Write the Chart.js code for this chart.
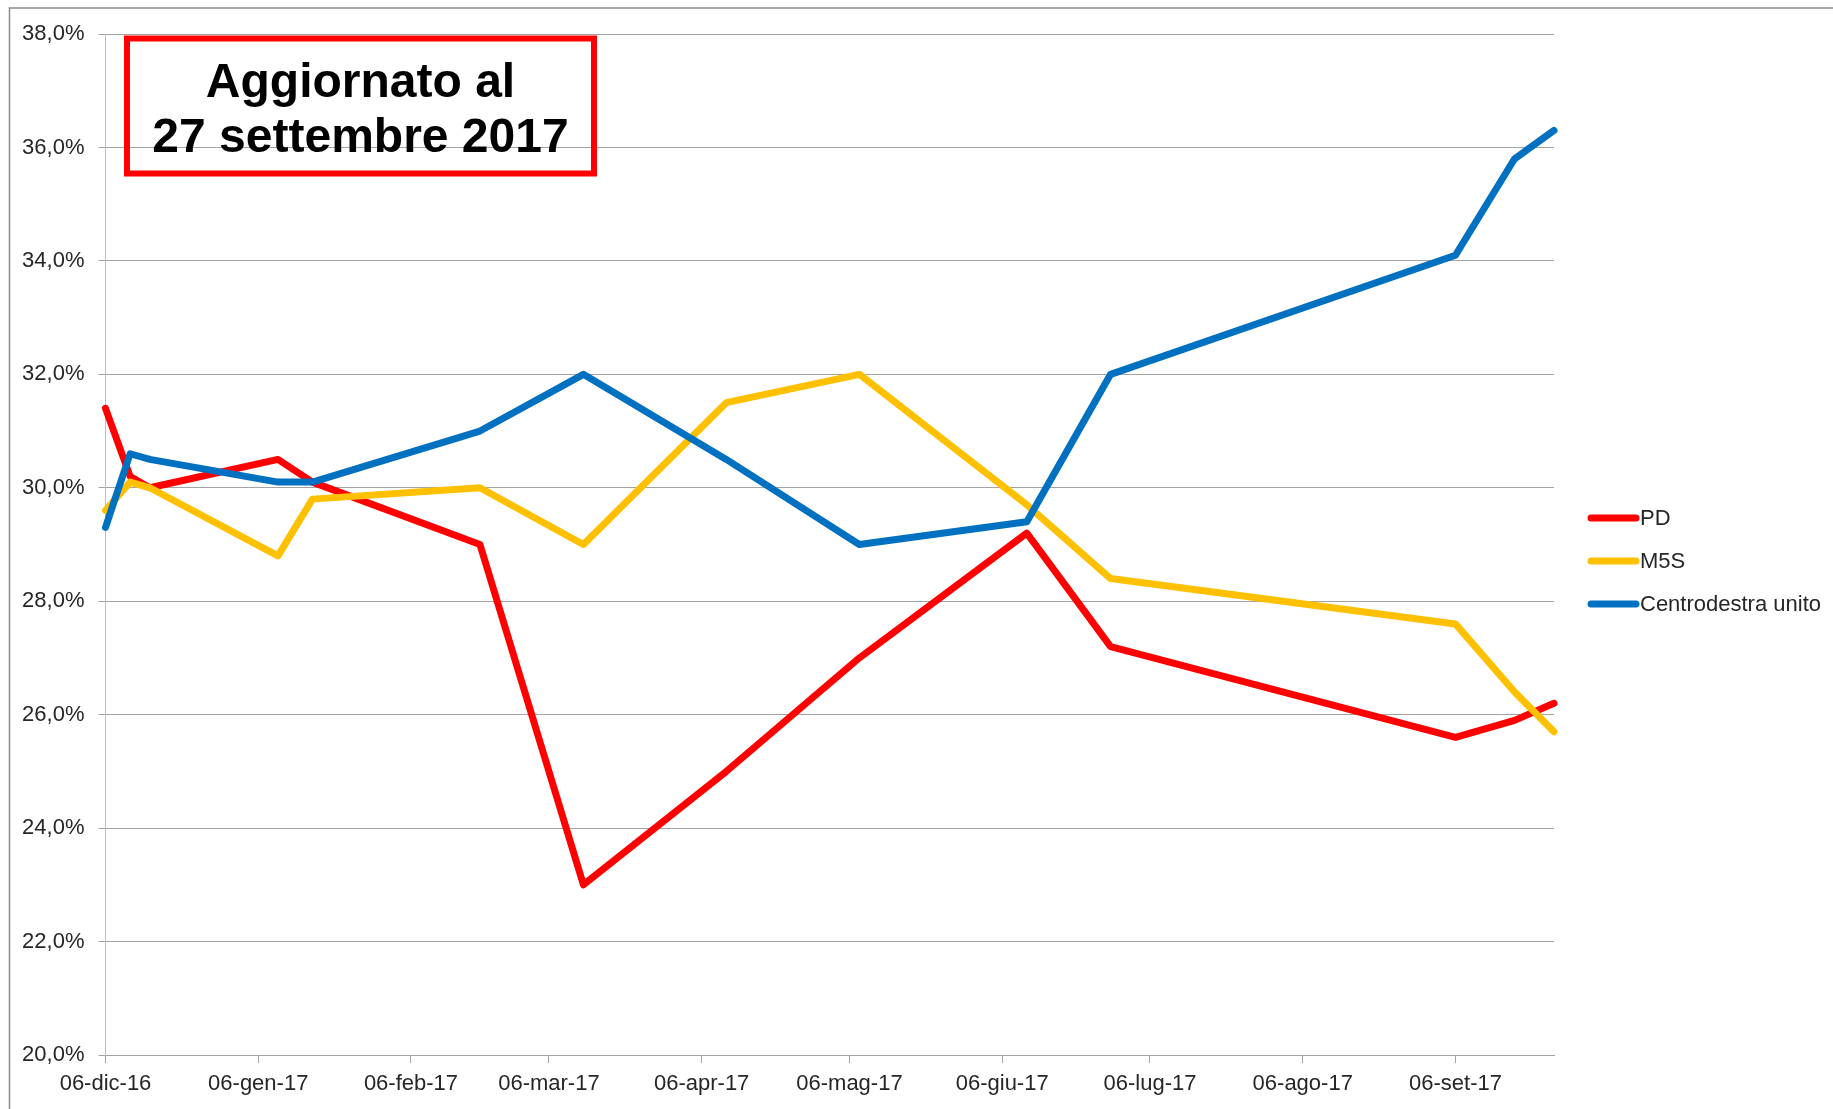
<!DOCTYPE html>
<html>
<head>
<meta charset="utf-8">
<script src="https://cdn.jsdelivr.net/npm/chart.js@4/dist/chart.umd.min.js"></script>
<style>
html,body{margin:0;padding:0;background:#fff;overflow:hidden}
#wrap{position:relative;width:1833px;height:1109px}
canvas{display:block}
</style>
</head>
<body>
<div id="wrap"><canvas id="c" width="1833" height="1109"></canvas></div>
<script>
// ---- data ----
const dates = ['2016-12-06','2016-12-11','2016-12-15','2017-01-10','2017-01-17','2017-02-20','2017-03-13','2017-04-11','2017-05-08','2017-06-11','2017-06-28','2017-09-06','2017-09-18','2017-09-26'];
const pdValues  = [31.4, 30.2, 30.0, 30.5, 30.1, 29.0, 23.0, 25.0, 27.0, 29.2, 27.2, 25.6, 25.9, 26.2];
const m5sValues = [29.6, 30.1, 30.0, 28.8, 29.8, 30.0, 29.0, 31.5, 32.0, 29.7, 28.4, 27.6, 26.4, 25.7];
const cdxValues = [29.3, 30.6, 30.5, 30.1, 30.1, 31.0, 32.0, 30.5, 29.0, 29.4, 32.0, 34.1, 35.8, 36.3];
const seriesNames = ['PD', 'M5S', 'Centrodestra unito'];
const seriesColors = ['#FF0000', '#FFC000', '#0070C0'];
const tickDates = ['2016-12-06','2017-01-06','2017-02-06','2017-03-06','2017-04-06','2017-05-06','2017-06-06','2017-07-06','2017-08-06','2017-09-06'];
const tickLabels = ['06-dic-16','06-gen-17','06-feb-17','06-mar-17','06-apr-17','06-mag-17','06-giu-17','06-lug-17','06-ago-17','06-set-17'];
const yMin = 20, yMax = 38, yStep = 2;
const titleLines = ['Aggiornato al', '27 settembre 2017'];

// ---- helpers ----
const DAY = 86400000;
const t0 = Date.parse(dates[0]);
const dayOf = s => Math.round((Date.parse(s) - t0) / DAY);
const toPoints = vals => vals.map((v, i) => ({ x: dayOf(dates[i]), y: v }));

const TICK_FONT = { family: "'Liberation Sans Narrow', 'Arial Narrow', 'Liberation Sans', sans-serif", size: 22 };
const TEXT_COLOR = '#262626';
const GRID_COLOR = '#a3a3a3';

const series = [pdValues, m5sValues, cdxValues];
const datasets = series.map((vals, i) => ({
  label: seriesNames[i],
  data: toPoints(vals),
  borderColor: seriesColors[i],
  backgroundColor: seriesColors[i],
  borderWidth: 7,
  pointRadius: 0,
  pointHoverRadius: 0,
  tension: 0,
  borderJoinStyle: 'round',
  borderCapStyle: 'round',
  fill: false,
  clip: false,
  order: series.length - 1 - i
}));

const decoPlugin = {
  id: 'deco',
  beforeDraw(chart) {
    const ctx = chart.ctx;
    ctx.save();
    ctx.fillStyle = '#fff';
    ctx.fillRect(0, 0, chart.width, chart.height);
    // outer chart frame (left and top edges visible)
    ctx.strokeStyle = '#8a8a8a';
    ctx.lineWidth = 1.5;
    ctx.beginPath();
    ctx.moveTo(9.5, chart.height);
    ctx.lineTo(9.5, 8);
    ctx.lineTo(chart.width, 8);
    ctx.stroke();
    ctx.restore();
  },
  afterDraw(chart) {
    const ctx = chart.ctx;
    ctx.save();
    // title box
    ctx.strokeStyle = '#FF0000';
    ctx.lineWidth = 6;
    ctx.strokeRect(127, 38.5, 467, 135);
    ctx.fillStyle = '#000';
    ctx.font = "bold 48px 'Liberation Sans', Arial, sans-serif";
    ctx.textAlign = 'center';
    ctx.textBaseline = 'alphabetic';
    ctx.fillText(titleLines[0], 360.5, 97);
    ctx.fillText(titleLines[1], 360.5, 152);
    // legend
    const lx0 = 1591, lx1 = 1636, tx = 1640;
    const ys = [518, 561, 604];
    chart.data.datasets.forEach((ds, i) => {
      ctx.strokeStyle = ds.borderColor;
      ctx.lineWidth = 7;
      ctx.lineCap = 'round';
      ctx.beginPath();
      ctx.moveTo(lx0, ys[i]);
      ctx.lineTo(lx1, ys[i]);
      ctx.stroke();
      ctx.fillStyle = TEXT_COLOR;
      ctx.font = `${TICK_FONT.size}px ${TICK_FONT.family}`;
      ctx.textAlign = 'left';
      ctx.textBaseline = 'middle';
      ctx.fillText(ds.label, tx, ys[i] + 1);
    });
    ctx.restore();
  }
};

new Chart(document.getElementById('c'), {
  type: 'line',
  data: { datasets },
  options: {
    responsive: false,
    animation: false,
    devicePixelRatio: 1,
    layout: { padding: { top: 34, right: 279, bottom: 0, left: 0 } },
    plugins: { legend: { display: false }, tooltip: { enabled: false } },
    scales: {
      x: {
        type: 'linear',
        min: 0,
        max: dayOf(dates[dates.length - 1]),
        afterBuildTicks: scale => { scale.ticks = tickDates.map(d => ({ value: dayOf(d) })); },
        afterFit: scale => { scale.height = 54; },
        ticks: {
          autoSkip: false,
          maxRotation: 0,
          minRotation: 0,
          padding: 8,
          color: TEXT_COLOR,
          font: TICK_FONT,
          callback: (v, i) => tickLabels[i]
        },
        grid: { drawOnChartArea: false, drawTicks: true, tickLength: 8, color: GRID_COLOR, lineWidth: 1 },
        border: { color: GRID_COLOR, width: 1 }
      },
      y: {
        type: 'linear',
        min: yMin,
        max: yMax,
        afterFit: scale => { scale.width = 105.5; },
        ticks: {
          stepSize: yStep,
          padding: 14,
          color: TEXT_COLOR,
          font: TICK_FONT,
          callback: v => v.toFixed(1).replace('.', ',') + '%'
        },
        grid: { color: GRID_COLOR, lineWidth: 1, drawTicks: true, tickLength: 7 },
        border: { color: '#bdbdbd', width: 1 }
      }
    }
  },
  plugins: [decoPlugin]
});
</script>
</body>
</html>
